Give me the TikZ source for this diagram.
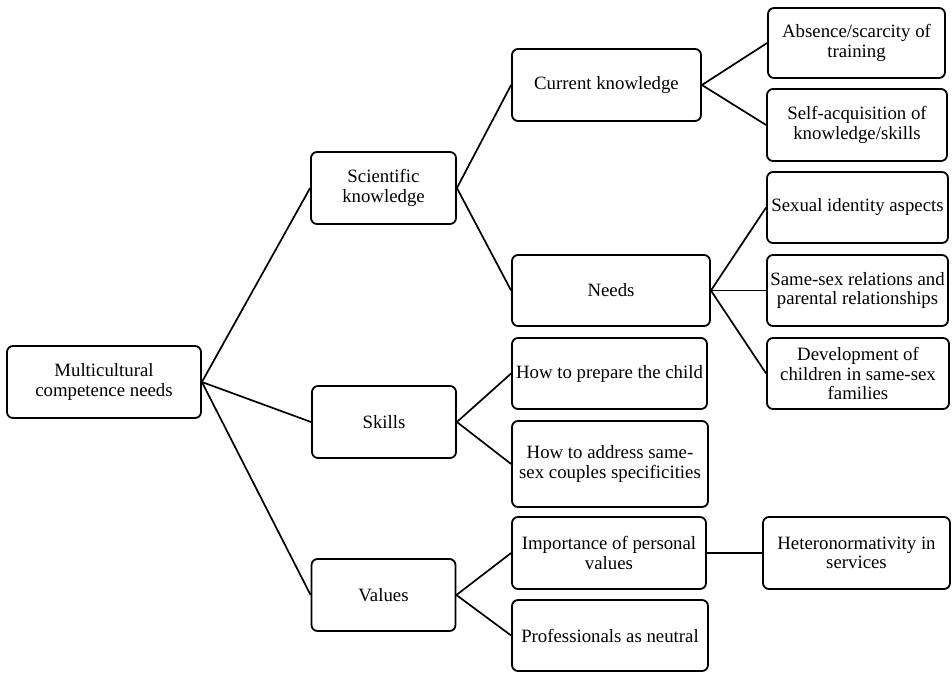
\documentclass[tikz,border=0pt]{standalone}
\usepackage{fontspec}
\setmainfont{Liberation Serif}
\begin{document}
\begin{tikzpicture}[x=1pt,y=-1pt,
  box/.style={draw, line width=1.8pt, rounded corners=6pt, inner sep=0pt, align=center,
    font=\fontsize{18.8}{19.5}\selectfont},
  link/.style={line width=1.7pt}]
\useasboundingbox (0,0) rectangle (952,672);
\newcommand{\bx}[6]{\node[box, minimum width=#4, minimum height=#5] (#1) at (#2,#3) {#6};}
\bx{mc}{104}{382}{194}{72}{Multicultural\\competence needs}
\bx{sk}{383.5}{188}{145}{72}{Scientific\\knowledge}
\bx{sl}{384}{422}{144}{72}{Skills}
\bx{va}{383.5}{595}{144}{72}{Values}
\bx{ck}{606.5}{85}{189}{72}{Current knowledge}
\bx{ne}{611}{290.5}{198}{71}{Needs}
\bx{hp}{609.5}{373.5}{195}{71}{How to prepare the child}
\bx{ha}{610}{464}{196}{86}{How to address same-\\sex couples specificities}
\bx{ip}{609}{553}{194}{72}{Importance of personal\\values}
\bx{pn}{610}{635.5}{196}{71}{Professionals as neutral}
\bx{ab}{856.5}{43}{177}{70}{Absence/scarcity of\\training}
\bx{sa}{857}{125}{180}{72}{Self-acquisition of\\knowledge/skills}
\bx{si}{857.5}{207.5}{181}{71}{Sexual identity aspects}
\bx{ss}{857.5}{290.5}{181}{71}{Same-sex relations and\\parental relationships}
\bx{dv}{858}{373.5}{182}{71}{Development of\\children in same-sex\\families}
\bx{he}{856.5}{553}{187}{72}{Heteronormativity in\\services}
\foreach \a/\b in {mc/sk, mc/sl, mc/va, sk/ck, sk/ne, ck/ab, ck/sa, ne/si, ne/ss, ne/dv, sl/hp, sl/ha, va/ip, va/pn, ip/he}
  \draw[link] (\a.east) -- (\b.west);
\end{tikzpicture}
\end{document}
